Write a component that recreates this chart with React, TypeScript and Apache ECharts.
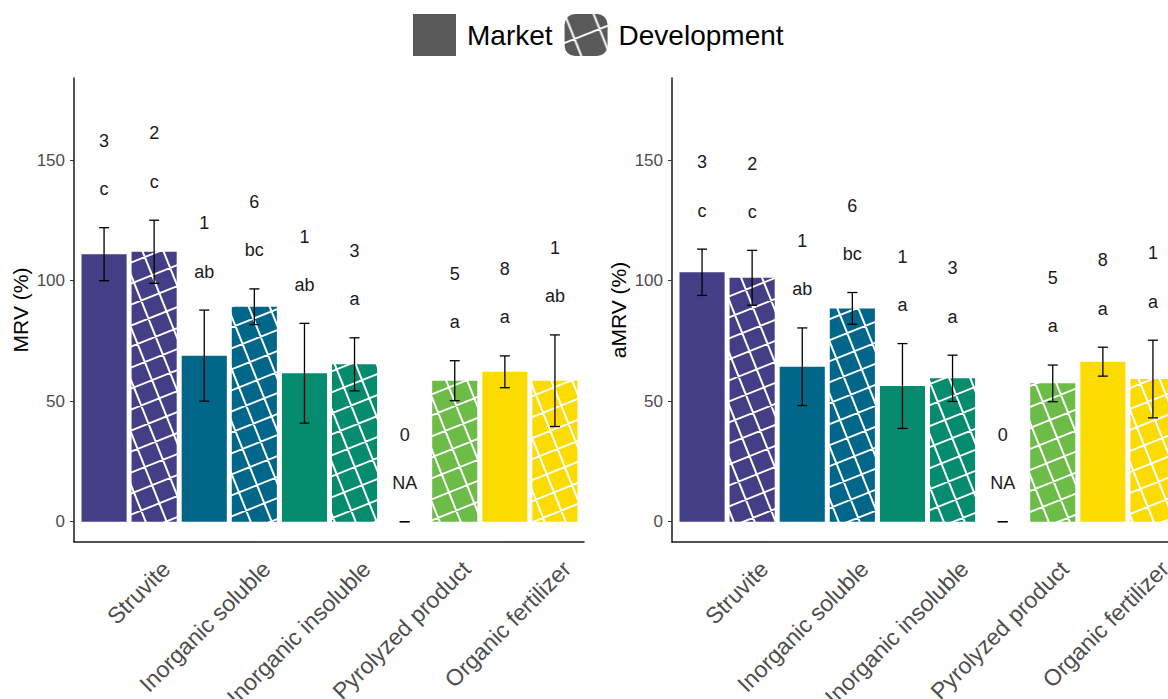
import React, { useEffect, useRef } from "react";
import * as echarts from "echarts";

// Fertilizer categories, shared by both panels
const categories = [
  "Struvite",
  "Inorganic soluble",
  "Inorganic insoluble",
  "Pyrolyzed product",
  "Organic fertilizer",
];
const categoryColors = ["#433E85", "#00678A", "#058B6E", "#6CBC47", "#FCDC00"];
const yTicks = [0, 50, 100, 150];

// Number of observations per bar
const countsMarket = [3, 1, 1, 0, 8];
const countsDevelopment = [2, 6, 3, 5, 1];

// MRV (%) — mean and standard error
const mrvMarket = [111.0, 68.9, 61.6, null, 62.2];
const mrvMarketErr = [11.0, 18.9, 20.7, null, 6.6];
const mrvDevelopment = [112.0, 89.2, 65.3, 58.5, 58.5];
const mrvDevelopmentErr = [13.1, 7.4, 11.0, 8.3, 19.0];
const mrvLettersMarket = ["c", "ab", "ab", "NA", "a"];
const mrvLettersDevelopment = ["c", "bc", "a", "a", "ab"];

// aMRV (%) — mean and standard error
const amrvMarket = [103.5, 64.3, 56.3, null, 66.4];
const amrvMarketErr = [9.6, 16.1, 17.6, null, 6.0];
const amrvDevelopment = [101.2, 88.5, 59.5, 57.4, 59.2];
const amrvDevelopmentErr = [11.4, 6.6, 9.6, 7.6, 16.1];
const amrvLettersMarket = ["c", "ab", "a", "NA", "a"];
const amrvLettersDevelopment = ["c", "bc", "a", "a", "a"];

const FONT = "'Liberation Sans', Arial, Helvetica, sans-serif";
const Y_MIN = -8.42;
const Y_MAX = 184.1;
const CAT_GAP = 0.05;
const BAR_GAP = 0.11;
const LETTER_OFFSET = 16;
const COUNT_OFFSET = 36;

// Seamless crosshatch tile: a square lattice tilted with slope 2/5, whose
// basis vectors (5,-2) and (2,5) repeat exactly every 29 lattice units.
function hatch(color: string, tile = 105, line = 2) {
  const s = tile / 29;
  const c = document.createElement("canvas");
  c.width = tile;
  c.height = tile;
  const ctx = c.getContext("2d")!;
  ctx.fillStyle = color;
  ctx.fillRect(0, 0, tile, tile);
  ctx.strokeStyle = "#ffffff";
  ctx.lineWidth = line;
  const u = [5 * s, -2 * s];
  const v = [2 * s, 5 * s];
  const L = 60;
  ctx.beginPath();
  for (let j = -30; j <= 30; j++) {
    // lines along u through j·v, and along v through j·u
    const p = [j * v[0], j * v[1]];
    ctx.moveTo(p[0] - L * u[0], p[1] - L * u[1]);
    ctx.lineTo(p[0] + L * u[0], p[1] + L * u[1]);
    const q = [j * u[0], j * u[1]];
    ctx.moveTo(q[0] - L * v[0], q[1] - L * v[1]);
    ctx.lineTo(q[0] + L * v[0], q[1] + L * v[1]);
  }
  ctx.stroke();
  return { image: c, repeat: "repeat", imageWidth: tile, imageHeight: tile };
}

function errorSeries(
  axisIndex: number,
  means: (number | null)[],
  errs: (number | null)[],
  counts: number[],
  letters: string[],
  side: number
) {
  return {
    type: "custom",
    xAxisIndex: axisIndex,
    yAxisIndex: axisIndex,
    z: 5,
    silent: true,
    clip: false,
    data: means.map((_, i) => [i, 0]),
    renderItem: (params: any, api: any) => {
      const i = params.dataIndex;
      const mean = means[i] ?? 0;
      const err = errs[i] ?? 0;
      const catW = api.size([1, 0])[0];
      const barW = (catW * (1 - CAT_GAP)) / (2 + BAR_GAP);
      const dx = (side * barW * (1 + BAR_GAP)) / 2;
      const top = api.coord([i, mean + err]);
      const bottom = api.coord([i, mean - err]);
      const x = top[0] + dx;
      const letterY = api.coord([i, mean + err + LETTER_OFFSET])[1];
      const countY = api.coord([i, mean + err + COUNT_OFFSET])[1];
      const cap = 5;
      const ls = { stroke: "#000000", lineWidth: 1.3 };
      const ts = (t: string) => ({
        text: t,
        fill: "#1a1a1a",
        fontSize: 18,
        fontFamily: FONT,
        align: "center",
        verticalAlign: "middle",
      });
      return {
        type: "group",
        children: [
          { type: "line", shape: { x1: x, y1: top[1], x2: x, y2: bottom[1] }, style: ls },
          { type: "line", shape: { x1: x - cap, y1: top[1], x2: x + cap, y2: top[1] }, style: ls },
          { type: "line", shape: { x1: x - cap, y1: bottom[1], x2: x + cap, y2: bottom[1] }, style: ls },
          { type: "text", x, y: letterY, style: ts(letters[i]) },
          { type: "text", x, y: countY, style: ts(String(counts[i])) },
        ],
      };
    },
  };
}

function buildPanel(
  p: number,
  offset: number,
  yName: string,
  market: (number | null)[],
  marketErr: (number | null)[],
  dev: (number | null)[],
  devErr: (number | null)[],
  lettersM: string[],
  lettersD: string[]
) {
  const frame = p * 3;
  const bars = p * 3 + 1;
  const labels = p * 3 + 2;
  const base = { top: 78, height: 464, outerBoundsMode: "none", containLabel: false };
  const grid = [
    { ...base, left: 74 + offset, width: 510 },
    { ...base, left: 79 + offset, width: 501 },
    { ...base, left: 79 + offset + 37, width: 501 },
  ];
  const axisColor = "#1a1a1a";
  const xAxis = [
    {
      gridIndex: frame,
      type: "value",
      min: 0,
      max: 1,
      axisLine: { show: true, onZero: false, lineStyle: { color: axisColor, width: 1.5 } },
      axisTick: { show: false },
      axisLabel: { show: false },
      splitLine: { show: false },
    },
    {
      gridIndex: bars,
      type: "category",
      data: categories,
      show: false,
    },
    {
      gridIndex: labels,
      type: "category",
      data: categories,
      axisLine: { show: false },
      axisTick: { show: false },
      splitLine: { show: false },
      axisLabel: {
        interval: 0,
        rotate: 45,
        margin: 23,
        fontSize: 23,
        fontFamily: FONT,
        color: "#4D4D4D",
        hideOverlap: false,
      },
    },
  ];
  const yAxis = [
    {
      gridIndex: frame,
      type: "value",
      min: Y_MIN,
      max: Y_MAX,
      name: yName,
      nameLocation: "middle",
      nameGap: 43,
      nameTextStyle: { fontSize: 21, fontFamily: FONT, color: "#000000" },
      axisLine: { show: true, lineStyle: { color: axisColor, width: 1.5 } },
      axisTick: { show: true, length: 4, customValues: yTicks, lineStyle: { color: "#333333" } },
      axisLabel: { customValues: yTicks, fontSize: 17, fontFamily: FONT, color: "#4D4D4D", margin: 9 },
      splitLine: { show: false },
    },
    { gridIndex: bars, type: "value", min: Y_MIN, max: Y_MAX, show: false },
    { gridIndex: labels, type: "value", min: Y_MIN, max: Y_MAX, show: false },
  ];
  const series = [
    {
      name: "Market",
      type: "bar",
      xAxisIndex: bars,
      yAxisIndex: bars,
      barCategoryGap: `${CAT_GAP * 100}%`,
      barGap: `${BAR_GAP * 100}%`,
      data: market.map((v, i) => ({ value: v ?? "-", itemStyle: { color: categoryColors[i] } })),
    },
    {
      name: "Development",
      type: "bar",
      xAxisIndex: bars,
      yAxisIndex: bars,
      barCategoryGap: `${CAT_GAP * 100}%`,
      barGap: `${BAR_GAP * 100}%`,
      data: dev.map((v, i) => ({ value: v ?? "-", itemStyle: { color: hatch(categoryColors[i]) } })),
    },
    errorSeries(bars, market, marketErr, countsMarket, lettersM, -1),
    errorSeries(bars, dev, devErr, countsDevelopment, lettersD, 1),
  ];
  return { grid, xAxis, yAxis, series };
}

export default function App() {
  const ref = useRef<HTMLDivElement>(null);
  useEffect(() => {
    document.body.style.margin = "0";
    if (!ref.current) return;
    const chart = echarts.init(ref.current, null, { renderer: "svg" });
    const left = buildPanel(0, 0, "MRV (%)", mrvMarket, mrvMarketErr, mrvDevelopment, mrvDevelopmentErr, mrvLettersMarket, mrvLettersDevelopment);
    const right = buildPanel(1, 598, "aMRV (%)", amrvMarket, amrvMarketErr, amrvDevelopment, amrvDevelopmentErr, amrvLettersMarket, amrvLettersDevelopment);
    chart.setOption({
      animation: false,
      backgroundColor: "#ffffff",
      legend: {
        left: 413,
        top: 14,
        padding: 0,
        itemWidth: 43,
        itemHeight: 42,
        itemGap: 12,
        selectedMode: false,
        textStyle: { fontSize: 28, fontFamily: FONT, color: "#000000", padding: [0, 0, 0, 6] },
        data: [
          { name: "Market", icon: "rect", itemStyle: { color: "#595959" } },
          { name: "Development", icon: "roundRect", itemStyle: { color: hatch("#595959", 145, 2) } },
        ],
      },
      grid: [...left.grid, ...right.grid],
      xAxis: [...left.xAxis, ...right.xAxis],
      yAxis: [...left.yAxis, ...right.yAxis],
      series: [...left.series, ...right.series],
    });
    return () => chart.dispose();
  }, []);
  return <div ref={ref} style={{ width: 1168, height: 699 }} />;
}
